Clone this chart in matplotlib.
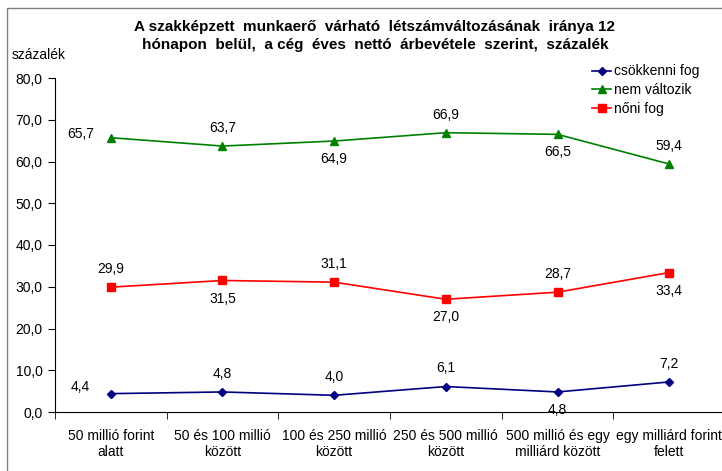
import matplotlib.pyplot as plt
from matplotlib.lines import Line2D
from matplotlib.patches import Rectangle

plt.rcParams['font.family'] = ['Liberation Sans', 'DejaVu Sans']

# adatok
kategoriak = ['50 millió forint\nalatt', '50 és 100 millió\nközött', '100 és 250 millió\nközött',
              '250 és 500 millió\nközött', '500 millió és egy\nmilliárd között', 'egy milliárd forint\nfelett']
csokkenni = [4.4, 4.8, 4.0, 6.1, 4.8, 7.2]
nem_valtozik = [65.7, 63.7, 64.9, 66.9, 66.5, 59.4]
noni = [29.9, 31.5, 31.1, 27.0, 28.7, 33.4]

# címkék helye (fent / lent / bal)
hely_csokkenni = ['bal', 'fent', 'fent', 'fent', 'lent', 'fent']
hely_nem = ['bal', 'fent', 'lent', 'fent', 'lent', 'fent']
hely_noni = ['fent', 'lent', 'fent', 'lent', 'fent', 'lent']

fig = plt.figure(figsize=(7.22, 4.71), dpi=100)
ax = fig.add_axes([55/722, 59/471, 670/722, 334/471])

x = range(len(kategoriak))
sorozatok = [
    (csokkenni, 'csökkenni fog', '#000080', 'D', 4, hely_csokkenni),
    (nem_valtozik, 'nem változik', '#008000', '^', 6, hely_nem),
    (noni, 'nőni fog', '#FF0000', 's', 5.5, hely_noni),
]

offsets = {'fent': (0, 13), 'lent': (0, -13), 'bal': (-22, 3)}
for ertekek, nev, szin, marker, ms, helyek in sorozatok:
    ax.plot(x, ertekek, color=szin, marker=marker, markersize=ms, lw=1.2, label=nev)
    for i, v in enumerate(ertekek):
        dx, dy = offsets[helyek[i]]
        if helyek[i] == 'bal' and nev == 'csökkenni fog':
            dy = 5
        ax.annotate(f'{v:.1f}'.replace('.', ','), (i, v), xytext=(dx, dy),
                    textcoords='offset points', ha='center', va='center', fontsize=10)

ax.set_xlim(-0.5, 5.5)
ax.set_ylim(0, 80)
ax.set_yticks(range(0, 81, 10))
ax.set_yticklabels([f'{t},0' for t in range(0, 81, 10)], fontsize=10)
ax.set_xticks(list(x))
ax.set_xticklabels(kategoriak, fontsize=10)
ax.set_xticks([i - 0.5 for i in range(7)], minor=True)
ax.tick_params(axis='x', which='major', length=0, pad=12)
ax.tick_params(axis='x', which='minor', length=5, direction='out')
ax.tick_params(axis='y', length=5, direction='out', pad=4)
for s in ['top', 'right']:
    ax.spines[s].set_visible(False)
ax.spines['left'].set_linewidth(0.8)
ax.spines['bottom'].set_linewidth(0.8)
ax.set_facecolor('none')

fig.text(375/722, 1 - 36/471, 'A szakképzett  munkaerő  várható  létszámváltozásának  iránya 12\n'
         'hónapon  belül,  a cég  éves  nettó  árbevétele  szerint,  százalék',
         ha='center', va='center', fontsize=11, fontweight='bold', linespacing=1.3)
fig.text(12/722, 1 - 55/471, 'százalék', ha='left', va='center', fontsize=10)

kezelok = [Line2D([], [], color=s[2], marker=s[3], markersize=s[4], lw=1.2) for s in sorozatok]
fig.legend(kezelok, [s[1] for s in sorozatok], loc='upper right',
           bbox_to_anchor=(712/722, 1 - 52/471), frameon=False, fontsize=10,
           handlelength=1.4, handletextpad=0.2, labelspacing=0.35)

fig.patches.append(Rectangle((7/722, -0.1), 1.2, 1 - 8/471 + 0.1, transform=fig.transFigure,
                             fill=False, edgecolor='#7f7f7f', lw=1))

fig.savefig('out.png', dpi=100)
